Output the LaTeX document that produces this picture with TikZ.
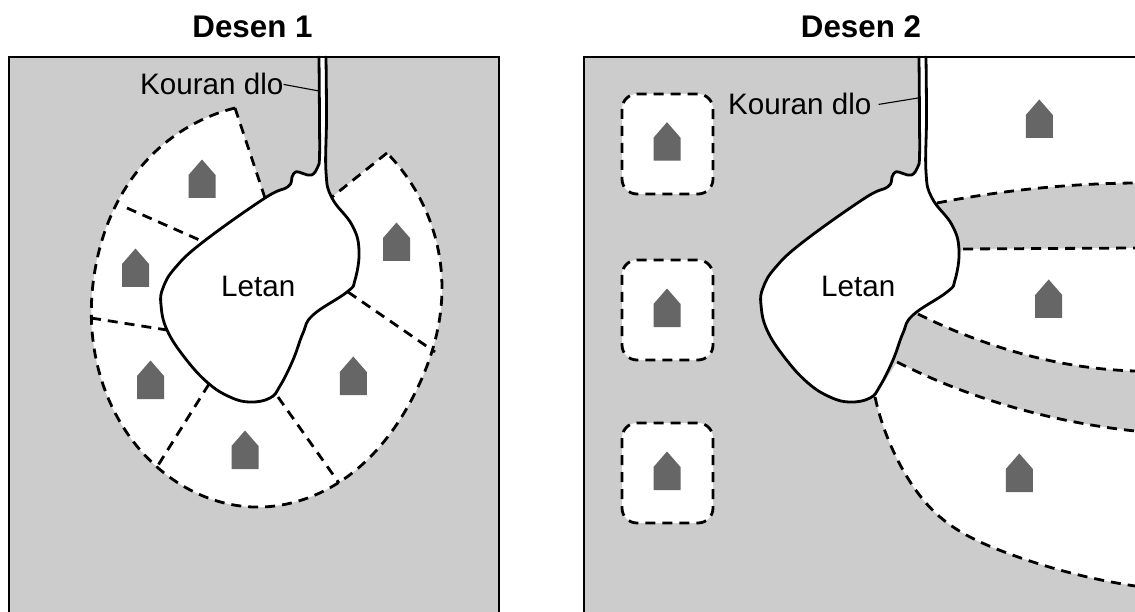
\documentclass[tikz,border=0pt]{standalone}
\usepackage{fontspec}
\usetikzlibrary{hobby}
\setmainfont{Liberation Sans}
\definecolor{landgray}{HTML}{CCCCCC}
\definecolor{housegray}{HTML}{666666}
\tikzset{
  x=1pt,y=-1pt,
  lakeline/.style={line width=2.8pt,line join=round,line cap=round},
  border/.style={line width=2.8pt},
  dashline/.style={line width=2.8pt,dash pattern=on 10pt off 7pt},
  leader/.style={line width=1.1pt},
  label/.style={inner sep=0pt,font=\fontsize{29.6}{30}\selectfont},
  heading/.style={inner sep=0pt,font=\fontsize{31.3}{32}\selectfont\bfseries},
  every path/.append style={use Hobby shortcut},
}
\newcommand{\lakepath}{plot[smooth,tension=0.7] coordinates {(319,57) (319.5,120) (319.5,157) (317.7,167) (311.7,175) (303,173.5) (296,171.7) (292,177) (288,186.7) (265,198) (203,242) (175,268) (163,288) (161,305) (167,330) (185,358) (208,383) (230,397) (250,402) (270,398) (280,386) (293,360) (303,333) (313,315) (347,292) (355,280) (359,250) (352,225) (332,198) (326,172) (326.5,117) (326,57)}}
\newcommand{\arcpath}{(235,108) .. (147,160) .. (95,270) .. (100,375) .. (157,467) .. (253,507) .. (338,483) .. (413,397) .. (442,288) .. (387,153)}
\newcommand{\house}[2]{\fill[housegray] (#1-13.5,#2) -- (#1+13.5,#2) -- (#1+13.5,#2-23) -- (#1,#2-38.5) -- (#1-13.5,#2-23) -- cycle;}
\newcommand{\wellbox}[1]{\draw[dashline,fill=white,rounded corners=15pt] (622,#1) rectangle (713,#1+100);}
\newcommand{\curveA}{(937,203) .. (1040,188) .. (1135,183)}
\newcommand{\curveB}{(918,314) .. (993,345) .. (1073,365) .. (1135,371)}
\newcommand{\curveC}{(897,362) .. (953,387) .. (1023,410) .. (1135,431)}
\newcommand{\curveCback}{(1135,431) .. (1023,410) .. (953,387) .. (897,362)}
\newcommand{\curveD}{(875,397) .. (903,470) .. (940,517) .. (1007,553) .. (1135,586)}
\begin{document}
\begin{tikzpicture}
\useasboundingbox (0,0) rectangle (1135,612);
\fill[white] (0,0) rectangle (1135,612);
% ---- panel 1
\fill[landgray] (9,57) rectangle (499,612);
\fill[white] \arcpath -- (332,197) -- (265,198) -- cycle;
\draw[dashline] \arcpath;
\draw[dashline] (235,108) -- (265,198);
\draw[dashline] (387,153) -- (332,197);
\draw[dashline] (127,208) -- (204,242);
\draw[dashline] (91,318) -- (167,330);
\draw[dashline] (209,384) -- (157,467);
\draw[dashline] (278,397) -- (339,483);
\draw[dashline] (348,292) -- (435,352);
\draw[lakeline,fill=white] \lakepath;
\house{202}{198}\house{396.5}{261}\house{135.5}{287}\house{150.5}{399}\house{353.3}{395}\house{245}{469}
\draw[border] (9,612) -- (9,57) -- (499,57) -- (499,612);
\node[heading,anchor=base] (t1) at (252.5,38) {Desen 1};
\node[label,anchor=base west] (k1) at (140,95) {Kouran dlo};
\coordinate (r1) at (319,91);
\draw[leader] (k1.east) -- (r1);
\node[label,anchor=base west] (l1) at (221,297) {Letan};
% ---- panel 2
\fill[landgray] (584,57) rectangle (1135,612);
\fill[white] \curveA -- (1135,57) -- (922,57) -- (922,190) -- cycle;
\draw[dashline] \curveA;
\fill[white] \curveB -- (1135,248) -- (963,249) -- cycle;
\draw[dashline] (963,249) -- (1135,248);
\draw[dashline] \curveB;
\fill[white] \curveD -- \curveCback -- cycle;
\draw[dashline] \curveC;
\draw[dashline] \curveD;
\begin{scope}[xshift=600pt]
\draw[lakeline,fill=white] \lakepath;
\end{scope}
\wellbox{94}\wellbox{260}\wellbox{423}
\house{667}{160.7}\house{667}{327}\house{667}{490}\house{1039.3}{138}\house{1048.7}{318}\house{1019.3}{492}
\draw[border] (1135,57) -- (584,57) -- (584,612);
\node[heading,anchor=base] (t2) at (861,38) {Desen 2};
\node[label,anchor=base west] (k2) at (728,115) {Kouran dlo};
\coordinate (r2) at (918,98);
\draw[leader] ([xshift=7pt]k2.east) -- (r2);
\node[label,anchor=base west] (l2) at (821,297) {Letan};
\end{tikzpicture}
\end{document}
